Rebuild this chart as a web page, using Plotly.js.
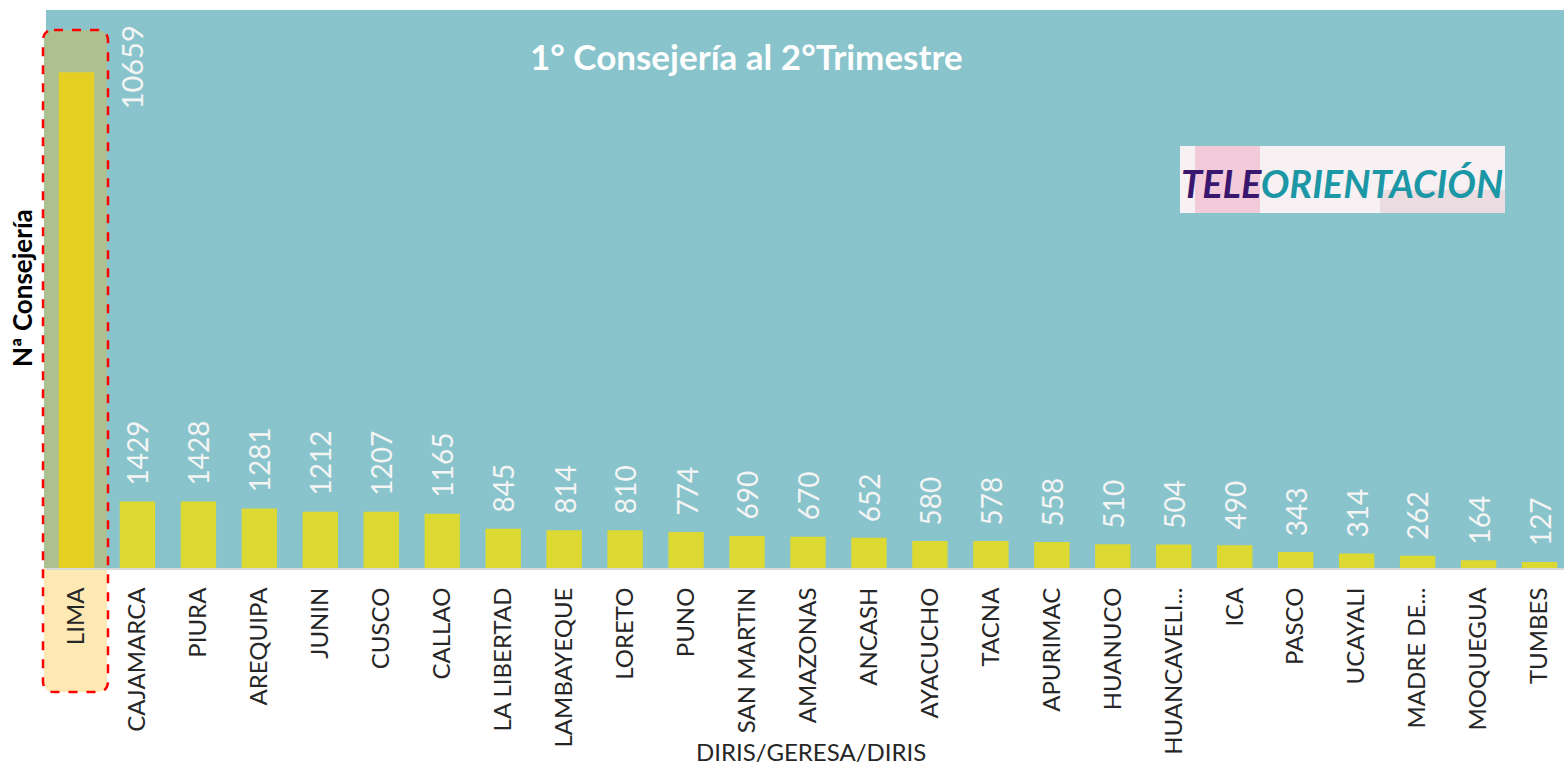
<!DOCTYPE html>
<html>
<head>
<meta charset="utf-8">
<script src="https://cdn.plot.ly/plotly-3.0.1.min.js"></script>
<style>html,body{margin:0;padding:0;background:#fff;}#chart{width:1564px;height:765px;}</style>
</head>
<body>
<div id="chart"></div>
<script>
var categories = ["LIMA","CAJAMARCA","PIURA","AREQUIPA","JUNIN","CUSCO","CALLAO","LA LIBERTAD","LAMBAYEQUE","LORETO","PUNO","SAN MARTIN","AMAZONAS","ANCASH","AYACUCHO","TACNA","APURIMAC","HUANUCO","HUANCAVELI...","ICA","PASCO","UCAYALI","MADRE DE...","MOQUEGUA","TUMBES"];
var values = [10659,1429,1428,1281,1212,1207,1165,845,814,810,774,690,670,652,580,578,558,510,504,490,343,314,262,164,127];
var chartTitle = "1° Consejería al 2°Trimestre";
var xTitle = "DIRIS/GERESA/DIRIS";
var yTitle = "Nª Consejería";
var logoTextA = "TELE";
var logoTextB = "ORIENTACIÓN";

// plot frame in pixels (for decoration placement)
var W = 1564, H = 765, L = 46, T = 10, B = 197, R = 0;
var PW = W - L - R, PH = H - T - B;
function px(x){ return (x - L) / PW; }
function py(y){ return (H - B - y) / PH; }
function roundRectPath(x0, y0, x1, y1, rTop, rBot){
  var p = [];
  p.push('M' + px(x0 + rTop) + ',' + py(y0));
  p.push('L' + px(x1 - rTop) + ',' + py(y0));
  p.push('Q' + px(x1) + ',' + py(y0) + ' ' + px(x1) + ',' + py(y0 + rTop));
  p.push('L' + px(x1) + ',' + py(y1 - rBot));
  p.push('Q' + px(x1) + ',' + py(y1) + ' ' + px(x1 - rBot) + ',' + py(y1));
  p.push('L' + px(x0 + rBot) + ',' + py(y1));
  p.push('Q' + px(x0) + ',' + py(y1) + ' ' + px(x0) + ',' + py(y1 - rBot));
  p.push('L' + px(x0) + ',' + py(y0 + rTop));
  p.push('Q' + px(x0) + ',' + py(y0) + ' ' + px(x0 + rTop) + ',' + py(y0));
  p.push('Z');
  return p.join(' ');
}

var barColors = categories.map(function(c, i){ return i === 0 ? '#e4cf22' : '#dcda32'; });

var trace = {
  type: 'bar',
  x: categories,
  y: values,
  marker: { color: barColors, line: { width: 0 } },
  hoverinfo: 'x+y'
};

var font = 'Lato, "Open Sans", sans-serif';

var annotations = [];
values.forEach(function(v, i){
  if (i === 0) {
    annotations.push({
      x: 0.9, xref: 'x', y: py(23), yref: 'paper',
      text: String(v), showarrow: false, textangle: -90,
      xanchor: 'center', yanchor: 'top',
      font: { family: font, size: 29, color: '#f4f4f4' }
    });
  } else {
    annotations.push({
      x: categories[i], xref: 'x', y: v, yref: 'y',
      text: String(v), showarrow: false, textangle: -90,
      xanchor: 'center', yanchor: 'bottom', yshift: 14,
      font: { family: font, size: 28, color: '#f4f4f4' }
    });
  }
});
annotations.push({
  x: px(746), xref: 'paper', y: py(56), yref: 'paper',
  text: '<b>' + chartTitle + '</b>', showarrow: false,
  xanchor: 'center', yanchor: 'middle',
  font: { family: font, size: 35, color: '#ffffff' }
});
annotations.push({
  x: px(22), xref: 'paper', y: py(288), yref: 'paper',
  text: '<b>' + yTitle + '</b>', showarrow: false, textangle: -90,
  xanchor: 'center', yanchor: 'middle',
  font: { family: font, size: 26, color: '#000000' }
});
annotations.push({
  x: px(811), xref: 'paper', y: py(751), yref: 'paper',
  text: xTitle, showarrow: false,
  xanchor: 'center', yanchor: 'middle',
  font: { family: font, size: 24, color: '#262626' }
});
annotations.push({
  x: px(1342), xref: 'paper', y: py(183), yref: 'paper',
  text: '<b><i><span style="color:#3a176f">' + logoTextA + '</span><span style="color:#1b97a5">' + logoTextB + '</span></i></b>',
  showarrow: false, xanchor: 'center', yanchor: 'middle',
  font: { family: font, size: 38, color: '#1b97a5' }
});

var shapes = [
  { type: 'path', xref: 'paper', yref: 'paper', layer: 'below',
    path: roundRectPath(44, 30, 107, 568, 10, 0),
    fillcolor: '#adc190', line: { width: 0 } },
  { type: 'path', xref: 'paper', yref: 'paper', layer: 'below',
    path: roundRectPath(44, 568, 107, 692, 0, 10),
    fillcolor: '#fee9b5', line: { width: 0 } },
  { type: 'path', xref: 'paper', yref: 'paper', layer: 'above',
    path: roundRectPath(43, 30, 108, 692, 11, 11),
    fillcolor: 'rgba(0,0,0,0)', line: { color: '#ff0000', width: 2.5, dash: 'dash' } },
  // logo box
  { type: 'rect', xref: 'paper', yref: 'paper', layer: 'above',
    x0: px(1180), x1: px(1505), y0: py(146), y1: py(213),
    fillcolor: '#f7f1f4', line: { width: 0 } },
  { type: 'rect', xref: 'paper', yref: 'paper', layer: 'above',
    x0: px(1195), x1: px(1260), y0: py(146), y1: py(213),
    fillcolor: 'rgba(235,130,165,0.35)', line: { width: 0 } },
  { type: 'rect', xref: 'paper', yref: 'paper', layer: 'above',
    x0: px(1380), x1: px(1505), y0: py(190), y1: py(213),
    fillcolor: 'rgba(200,160,170,0.25)', line: { width: 0 } }
];

var layout = {
  width: W, height: H,
  margin: { l: L, r: R, t: T, b: B, pad: 0 },
  paper_bgcolor: '#ffffff',
  plot_bgcolor: '#89c4cc',
  bargap: 0.42,
  showlegend: false,
  xaxis: {
    type: 'category',
    range: [-0.5, -0.5 + PW / 60.96],
    tickangle: -90,
    ticks: 'outside', ticklen: 8, tickcolor: 'rgba(0,0,0,0)',
    tickfont: { family: font, size: 24, color: '#262626' },
    showline: true, linecolor: '#d9d9d9', linewidth: 2,
    showgrid: false, zeroline: false, fixedrange: true
  },
  yaxis: {
    range: [0, 12000],
    showticklabels: false, ticks: '', showgrid: false, zeroline: false,
    showline: false, fixedrange: true
  },
  annotations: annotations,
  shapes: shapes
};

Plotly.newPlot('chart', [trace], layout, { displayModeBar: false, staticPlot: true });
</script>
</body>
</html>
